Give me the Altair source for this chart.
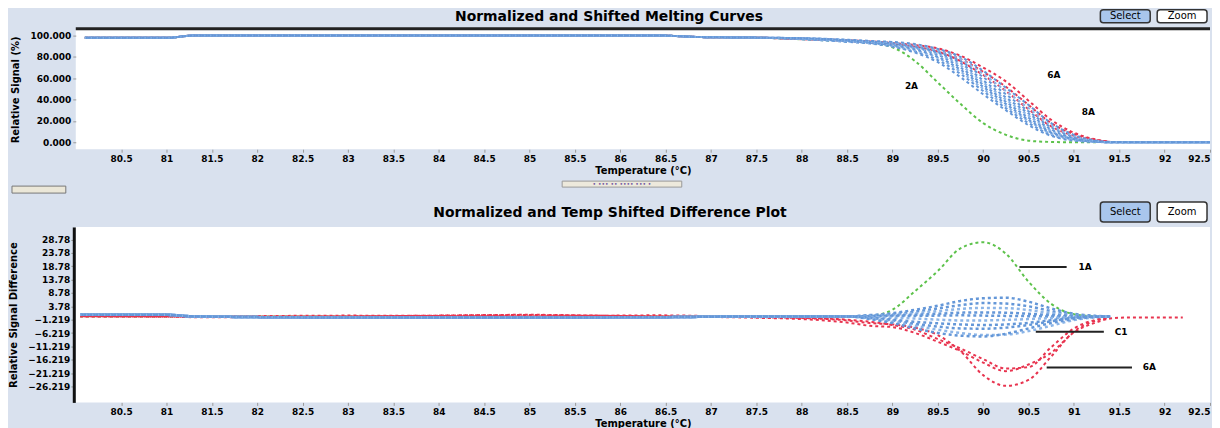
import altair as alt
import pandas as pd

# ---------------- data ----------------
T_TOP = [80.1, 81.0, 81.3, 86.4, 86.9, 87.5, 88.0, 88.5, 88.75, 89.0, 89.25,
         89.5, 89.75, 90.0, 90.25, 90.5, 90.75, 91.0, 91.25, 91.4, 92.0, 92.6]

BLUE_TOP = {
    "b1": [97.8, 97.8, 100, 100, 98.5, 98, 96.5, 94, 92.5, 89.5, 84, 75, 61, 45, 30, 16, 6, 1.5, 0.3, 0, 0, 0],
    "b2": [97.8, 97.8, 100, 100, 98.5, 98, 96.5, 94.5, 93, 90, 85, 77, 64, 48, 32, 18, 7, 2, 0.4, 0, 0, 0],
    "b3": [97.8, 97.8, 100, 100, 98.5, 98, 97, 94.5, 93, 90.5, 86, 79, 66, 50, 34, 20, 8, 2.5, 0.5, 0, 0, 0],
    "b4": [97.8, 97.8, 100, 100, 98.5, 98, 97, 95, 93.5, 91, 87, 80, 68, 52, 36, 21, 9, 3, 0.5, 0, 0, 0],
    "b5": [97.8, 97.8, 100, 100, 98.5, 98, 97, 95, 93.5, 91.5, 88, 82, 70, 54, 38, 23, 10, 3, 0.6, 0, 0, 0],
    "b6": [97.8, 97.8, 100, 100, 98.5, 98, 97, 95, 94, 92, 88.5, 83, 72, 56, 40, 25, 11, 3.5, 0.7, 0, 0, 0],
    "b7": [97.8, 97.8, 100, 100, 98.5, 98, 97.5, 95.5, 94, 92.5, 89, 84, 74, 58, 42, 27, 12, 4, 0.8, 0, 0, 0],
    "b8": [97.8, 97.8, 100, 100, 98.5, 98, 97.5, 95.5, 94.5, 93, 90, 85, 76, 61, 45, 29, 14, 5, 1, 0, 0, 0],
    "b9": [97.8, 97.8, 100, 100, 98.5, 98, 97.5, 96, 94.5, 93.5, 91, 86, 78, 64, 48, 32, 16, 6, 1.2, 0.2, 0, 0],
    "b10": [97.8, 97.8, 100, 100, 98.5, 98, 97.5, 96, 95, 94, 92, 87.5, 80, 67, 51, 35, 18, 7, 1.5, 0.3, 0, 0],
}
RED_TOP = {
    "r1": [97.8, 97.8, 100, 100, 98.5, 98, 97, 95.5, 94.5, 93, 91, 88, 81, 70, 57, 39, 21, 9, 2.5, 0.5, None, None],
    "r2": [97.8, 97.8, 100, 100, 98.5, 98, 97, 95, 94, 92.5, 90, 86, 78, 66, 52, 35, 18, 7.5, 2, 0.3, None, None],
    "r3": [97.8, 97.8, 100, 100, 98.5, 98, 96.5, 95, 93.5, 92, 89.5, 85, 76, 63, 48, 31, 15, 6, 1.5, 0.2, None, None],
}
GREEN_TOP = {
    "g1": [97.8, 97.8, 100, 100, 98.5, 98, 96.5, 94.5, 93, 89, 76, 56, 36, 18, 7, 1.5, 0.3, 0, 0, None, None, None],
}

T_DIFF = [80.05, 81.0, 81.3, 83.0, 85.0, 86.4, 87.5, 88.0, 88.5, 88.75, 89.0, 89.25,
          89.5, 89.75, 90.0, 90.25, 90.5, 90.75, 91.0, 91.25, 91.4, 91.6, 92.2]

BLUE_DIFF = {
    "b1": [0.6, 0.6, 0, -0.4, -0.4, -0.3, 0, 0, 0, 0.5, 1.2, 2.5, 4, 5.8, 6.8, 7, 5.5, 3, 1, 0.2, 0, None, None],
    "b2": [0.6, 0.6, 0, -0.4, -0.4, -0.3, 0, 0, 0, 0.3, 0.8, 1.8, 3, 4.2, 5, 4.8, 3.8, 2, 0.6, 0.1, 0, None, None],
    "b3": [0.6, 0.6, 0, -0.4, -0.4, -0.3, 0, 0, 0, 0.2, 0.5, 1.2, 2, 2.8, 3.2, 3.1, 2.4, 1.2, 0.4, 0, 0, None, None],
    "b4": [0.6, 0.6, 0, -0.4, -0.4, -0.3, 0, 0, 0, 0.1, 0.3, 0.6, 1, 1.4, 1.5, 1.4, 1, 0.5, 0.2, 0, 0, None, None],
    "b5": [0.6, 0.6, 0, -0.4, -0.4, -0.3, 0, 0, 0, 0, 0.1, 0.2, 0.3, 0.4, 0.3, 0.2, 0.1, 0, 0, 0, 0, None, None],
    "b6": [0.6, 0.6, 0, -0.4, -0.4, -0.3, 0, 0, 0, -0.2, -0.5, -0.8, -1.2, -1.5, -1.5, -1.3, -1, -0.6, -0.2, 0, 0, None, None],
    "b7": [0.6, 0.6, 0, -0.4, -0.4, -0.3, 0, 0, 0, -0.5, -1.2, -2, -2.6, -3, -3.2, -3, -2.4, -1.4, -0.5, -0.1, 0, None, None],
    "b8": [0.6, 0.6, 0, -0.4, -0.4, -0.3, 0, 0, 0, -0.6, -1.5, -2.8, -3.8, -4.5, -4.6, -4.2, -3.2, -1.8, -0.6, -0.1, 0, None, None],
    "b9": [0.6, 0.6, 0, -0.4, -0.4, -0.3, 0, 0, 0, -0.8, -2, -3.5, -5, -6.2, -7, -6.8, -5.5, -3.5, -1.4, -0.3, 0, None, None],
    "b10": [0.6, 0.6, 0, -0.4, -0.4, -0.3, 0, 0, 0, -1, -2.5, -4.5, -6.2, -7.2, -7.5, -6.5, -4.5, -2.5, -1, -0.2, 0, None, None],
}
RED_DIFF = {
    "r1": [0, 0, -0.3, 0, 0.5, 0, -0.5, -1, -2.3, -3.5, -4, -6.2, -9.5, -13, -17.3, -20.5, -18, -13.6, -6, -2.2, -0.8, -0.4, -0.4],
    "r2": [0, 0, 0, 0.3, 0, 0.4, -0.3, -0.6, -1.5, -2.5, -3, -4.2, -7, -13, -22, -26, -23.8, -15, -5.7, -1.5, -0.5, None, None],
    "r3": [0.2, 0, 0, 0, 0.6, 0, 0, -0.5, -1.2, -2, -3.2, -5, -8.5, -12, -16, -19.5, -19, -11.5, -4.5, -1.2, -0.4, None, None],
}
GREEN_DIFF = {
    "g1": [0, 0, 0, 0, 0, 0, 0, 0, 0, 0.2, 2.5, 9.5, 17, 25.5, 27.8, 23.5, 13, 4.7, 0.8, 0, None, None, None],
}

X_TICKS = [80.5, 81, 81.5, 82, 82.5, 83, 83.5, 84, 84.5, 85, 85.5, 86, 86.5, 87, 87.5,
           88, 88.5, 89, 89.5, 90, 90.5, 91, 91.5, 92, 92.5]
Y_TICKS_TOP = [0, 20, 40, 60, 80, 100]
Y_TICKS_DIFF = [28.78, 23.78, 18.78, 13.78, 8.78, 3.78, -1.219, -6.219, -11.219, -16.219, -21.219, -26.219]

TOP_LABEL_T = [89.21, 90.78, 91.16]
TOP_LABEL_V = [53, 63, 28]
TOP_LABEL_TEXT = ["2A", "6A", "8A"]

CALLOUT_T1 = [90.40, 90.58, 90.70]
CALLOUT_T2 = [90.92, 91.33, 91.64]
CALLOUT_V = [18.5, -5.7, -19.1]
CALLOUT_LABEL_T = [91.05, 91.45, 91.76]
CALLOUT_TEXT = ["1A", "C1", "6A"]

TITLE_TOP = "Normalized and Shifted Melting Curves"
TITLE_BOTTOM = "Normalized and Temp Shifted Difference Plot"

# ---------------- helpers ----------------
BG = "#d9e1ee"
BLUE = "#6497d8"
BLUE_LIGHT = "#8cb5e7"
RED = "#e8344f"
GREEN = "#5dc24b"
W = 1138
FONT = "DejaVu Sans"


def long_df(temps, groups):
    rows = []
    for name, vals in groups.items():
        for t, v in zip(temps, vals):
            if v is None:
                continue
            rows.append({"t": t, "v": v, "series": name})
    return pd.DataFrame(rows)


X_AXIS = alt.Axis(values=X_TICKS, format="~g", title="Temperature (°C)", domain=False,
                  grid=False, tickColor="#9a9a9a", tickSize=3, labelOverlap=False,
                  labelPadding=2, labelFlush=True, titlePadding=2,
                  labelFontSize=9, labelFontWeight="bold", labelColor="#000",
                  titleFontSize=10, titleFontWeight="bold", titleColor="#000",
                  labelFont=FONT, titleFont=FONT)
X_SCALE = alt.Scale(domain=[80, 92.5], nice=False, zero=False)


def x_enc(field="t"):
    return alt.X(f"{field}:Q", scale=X_SCALE, axis=X_AXIS, title="Temperature (°C)")


def y_axis(values, title, extra):
    base = dict(values=values, title=title, grid=False, tickColor="#9a9a9a", tickSize=3,
                labelOverlap=False, labelFontSize=9, labelFontWeight="bold",
                labelColor="#000", titleFontSize=10, titleFontWeight="bold",
                titleColor="#000", labelFont=FONT, titleFont=FONT)
    base.update(extra)
    return alt.Axis(**base)


Y_TOP_SCALE = alt.Scale(domain=[-6.5, 105.5], nice=False, zero=False)
Y_TOP_AXIS = y_axis(Y_TICKS_TOP, "Relative Signal (%)",
                    dict(format=".3f", domain=False, labelPadding=2, titleX=-55))
Y_DIFF_SCALE = alt.Scale(domain=[-32.2, 33.5], nice=False, zero=False)
Y_DIFF_AXIS = y_axis(Y_TICKS_DIFF, "Relative Signal Difference",
                     dict(labelExpr="datum.value > 0 ? format(datum.value, '.2f') : format(datum.value, '.3f')",
                          domain=True, domainColor="#111", domainWidth=3, offset=2,
                          labelPadding=1, titleX=-55))


def y_top(field="v"):
    return alt.Y(f"{field}:Q", scale=Y_TOP_SCALE, axis=Y_TOP_AXIS, title="Relative Signal (%)")


def y_diff(field="v"):
    return alt.Y(f"{field}:Q", scale=Y_DIFF_SCALE, axis=Y_DIFF_AXIS, title="Relative Signal Difference")


def line_layers(df, groups, colors, yfun, width=2):
    layers = []
    n = len(groups)
    for i, name in enumerate(groups.keys()):
        col = colors[i % len(colors)]
        off = (i * 2) % 6 if n <= 3 else i % 6
        layers.append(
            alt.Chart(df).transform_filter(alt.datum.series == name)
            .mark_line(color=col, strokeWidth=width, strokeDash=[3, 3], interpolate="monotone",
                       strokeDashOffset=off, clip=True)
            .encode(x=x_enc(), y=yfun())
        )
    return layers


one = pd.DataFrame({"k": [0]})


def buttons(y0, y1):
    sel = alt.Chart(one).mark_rect(fill="#a9c6ec", stroke="#333", strokeWidth=1.5, cornerRadius=3).encode(
        x=alt.value(1028), x2=alt.value(1078), y=alt.value(y0), y2=alt.value(y1))
    zoom = alt.Chart(one).mark_rect(fill="white", stroke="#333", strokeWidth=1.5, cornerRadius=3).encode(
        x=alt.value(1085), x2=alt.value(1135), y=alt.value(y0), y2=alt.value(y1))
    t1 = alt.Chart(one).mark_text(text="Select", font=FONT, fontSize=10, color="#000").encode(
        x=alt.value(1053), y=alt.value((y0 + y1) / 2))
    t2 = alt.Chart(one).mark_text(text="Zoom", font=FONT, fontSize=10, color="#000").encode(
        x=alt.value(1110), y=alt.value((y0 + y1) / 2))
    return [sel, zoom, t1, t2]


def title_mark(text, x, y):
    return alt.Chart(one).mark_text(text=text, font=FONT, fontSize=14, fontWeight="bold",
                                    color="#000", align="center", baseline="middle").encode(
        x=alt.value(x), y=alt.value(y))


# ---------------- top chart ----------------
df_top = long_df(T_TOP, {**GREEN_TOP, **RED_TOP, **BLUE_TOP})

top_layers = []
top_layers += line_layers(df_top, GREEN_TOP, [GREEN], y_top)
top_layers += line_layers(df_top, RED_TOP, [RED], y_top)
top_layers += line_layers(df_top, BLUE_TOP, [BLUE, BLUE, BLUE_LIGHT], y_top)

top_lab = pd.DataFrame({"t": TOP_LABEL_T, "v": TOP_LABEL_V, "label": TOP_LABEL_TEXT})
top_layers.append(alt.Chart(top_lab).mark_text(font=FONT, fontSize=9, fontWeight="bold", color="#000")
                  .encode(x=x_enc(), y=y_top(), text="label:N"))
top_layers.append(alt.Chart(one).mark_rule(color="#222", strokeWidth=3).encode(
    x=alt.value(0), x2=alt.value(W), y=alt.value(-1)))
top_layers += buttons(-20, -7)
top_layers.append(title_mark(TITLE_TOP, 535, -13))

top = alt.layer(*top_layers).properties(width=W, height=120)

# ---------------- difference chart ----------------
df_diff = long_df(T_DIFF, {**GREEN_DIFF, **RED_DIFF, **BLUE_DIFF})

bot_layers = []
bot_layers += line_layers(df_diff, GREEN_DIFF, [GREEN], y_diff)
bot_layers += line_layers(df_diff, RED_DIFF, [RED], y_diff)
bot_layers += line_layers(df_diff, BLUE_DIFF, [BLUE, BLUE, BLUE_LIGHT], y_diff, width=2.5)

callouts = pd.DataFrame({"t1": CALLOUT_T1, "t2": CALLOUT_T2, "v": CALLOUT_V,
                         "tl": CALLOUT_LABEL_T, "label": CALLOUT_TEXT})
bot_layers.append(alt.Chart(callouts).mark_rule(color="#222", strokeWidth=2)
                  .encode(x=x_enc("t1"), x2="t2:Q", y=y_diff()))
bot_layers.append(alt.Chart(callouts).mark_text(font=FONT, fontSize=9, fontWeight="bold",
                                                color="#000", align="left")
                  .encode(x=x_enc("tl"), y=y_diff(), text="label:N"))
# divider handle and splitter tab
bot_layers.append(alt.Chart(one).mark_rect(fill="#ede9dc", stroke="#9a9a9a", strokeWidth=1).encode(
    x=alt.value(488), x2=alt.value(608), y=alt.value(-46), y2=alt.value(-40)))
bot_layers.append(alt.Chart(one).mark_text(text="•    •••  ••  ••••  •••    •", font=FONT, fontSize=6,
                                           color="#6b4ea0").encode(x=alt.value(548), y=alt.value(-43)))
bot_layers.append(alt.Chart(one).mark_rect(fill="#ebe7d8", stroke="#777", strokeWidth=1).encode(
    x=alt.value(-64), x2=alt.value(-10), y=alt.value(-41), y2=alt.value(-34)))
bot_layers += buttons(-25, -5)
bot_layers.append(title_mark(TITLE_BOTTOM, 536, -14))

bottom = alt.layer(*bot_layers).properties(width=W, height=176)

chart = alt.vconcat(top, bottom, spacing=5).properties(
    padding={"left": 0, "top": 0, "right": 0, "bottom": 0}
).configure(background=BG).configure_view(fill="white", stroke=None)

chart.save("out.html", embed_options={"renderer": "svg", "actions": False})
